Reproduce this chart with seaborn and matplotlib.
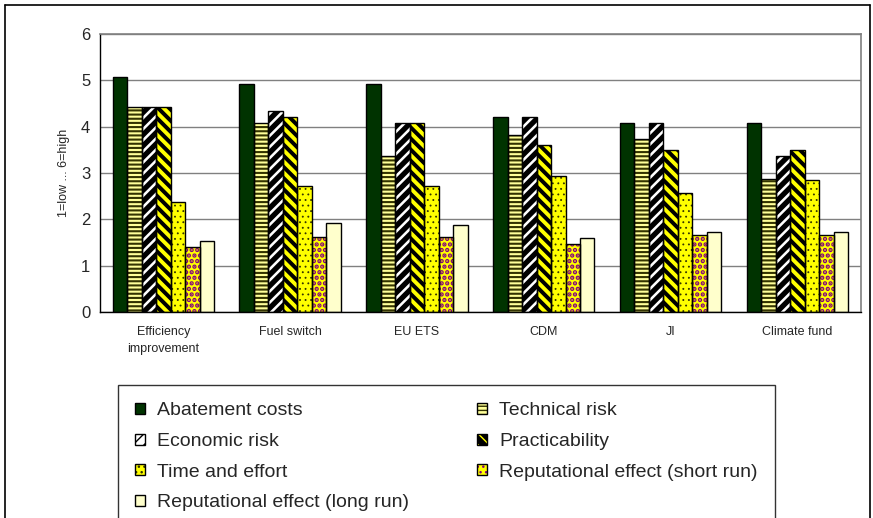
import pandas as pd
import matplotlib
matplotlib.use("Agg")
import matplotlib.pyplot as plt
import seaborn as sns
from matplotlib.patches import Patch, Rectangle
from matplotlib.lines import Line2D

# Data
options = ["Efficiency\nimprovement", "Fuel switch", "EU ETS", "CDM", "JI", "Climate fund"]
criteria = ["Abatement costs", "Technical risk", "Economic risk", "Practicability",
            "Time and effort", "Reputational effect (short run)", "Reputational effect (long run)"]

abatement = [5.07, 4.93, 4.93, 4.20, 4.07, 4.07]
technical = [4.43, 4.07, 3.37, 3.83, 3.73, 2.87]
economic = [4.43, 4.33, 4.07, 4.20, 4.07, 3.37]
practicability = [4.43, 4.20, 4.07, 3.60, 3.50, 3.50]
time_effort = [2.38, 2.73, 2.73, 2.93, 2.57, 2.85]
rep_short = [1.40, 1.62, 1.62, 1.47, 1.67, 1.67]
rep_long = [1.53, 1.93, 1.87, 1.60, 1.73, 1.73]

series = [abatement, technical, economic, practicability, time_effort, rep_short, rep_long]
df = pd.DataFrame([
    {"option": opt, "criterion": crit, "score": val}
    for crit, vals in zip(criteria, series)
    for opt, val in zip(options, vals)
])

# Fill colour, hatch, hatch colour, hatch width for each criterion
faces = ["#003300", "#FFFF99", "#FFFFFF", "#000000", "#FFFF00", "#FFFF00", "#FFFFCC"]
hatches = ["", "----", "///", "\\\\\\", "...", "...", ""]
hatch_colors = ["#003300", "#333300", "#000000", "#FFFF00", "#333300", "#800080", "#FFFFCC"]
hatch_widths = [1.0, 1.5, 3.8, 2.8, 0.6, 2.2, 1.0]

sns.set_style("white")
plt.rcParams['font.family'] = ['Liberation Sans', 'DejaVu Sans']

fig = plt.figure(figsize=(8.73, 5.18), dpi=100)
ax = fig.add_axes([0.1145, 0.398, 0.8715, 0.536])

sns.barplot(data=df, x="option", y="score", hue="criterion",
            palette=dict(zip(criteria, faces)), hue_order=criteria, order=options,
            width=0.8, saturation=1, errorbar=None, legend=False,
            linewidth=0, ax=ax)


def style_patch(p, i):
    p.set_hatch(hatches[i])
    p.set_edgecolor(hatch_colors[i])
    p.set_linewidth(0)
    if hasattr(p, "set_hatch_linewidth"):
        p.set_hatch_linewidth(hatch_widths[i])


for i, cont in enumerate(ax.containers):
    for p in cont.patches:
        style_patch(p, i)
        ax.add_patch(Rectangle(p.get_xy(), p.get_width(), p.get_height(),
                               fill=False, edgecolor="black", linewidth=1.0, zorder=3))

# Axes styling
ax.set_xlim(-0.5, len(options) - 0.5)
ax.set_ylim(0, 6)
ax.set_yticks(range(0, 7))
ax.yaxis.grid(True, color="#808080", linewidth=1.0)
ax.set_axisbelow(True)
for side in ["top", "right"]:
    ax.spines[side].set_color("#808080")
    ax.spines[side].set_linewidth(1.2)
for side in ["left", "bottom"]:
    ax.spines[side].set_color("black")
    ax.spines[side].set_linewidth(1.0)

ax.set_xticks(range(len(options)))
ax.set_xticks([k - 0.5 for k in range(len(options) + 1)], minor=True)
ax.tick_params(axis="x", which="major", length=0, pad=10, labelsize=9)
ax.tick_params(axis="x", which="minor", length=4, direction="out", color="black", width=1)
ax.tick_params(axis="y", length=4, direction="out", color="black", width=1, pad=3, labelsize=12)
for lab in ax.get_xticklabels():
    lab.set_linespacing(1.6)
ax.set_xlabel("")
ax.set_ylabel("1=low ... 6=high", fontsize=9, labelpad=8)

# Legend (row-wise order like the reference)
handles = [(Patch(facecolor=faces[i], hatch=hatches[i], edgecolor=hatch_colors[i], linewidth=0),
            Patch(fill=False, edgecolor="black", linewidth=1.0)) for i in range(len(criteria))]
order = [0, 2, 4, 6, 1, 3, 5]
leg = fig.legend([handles[i] for i in order], [criteria[i] for i in order],
                 loc="upper left", bbox_to_anchor=(0.135, 0.257), ncol=2,
                 fontsize=14, frameon=True, fancybox=False, edgecolor="black",
                 handlelength=0.5, handleheight=0.5, handletextpad=0.62,
                 columnspacing=3.5, labelspacing=0.7, borderpad=0.9,
                 borderaxespad=0)
leg.get_frame().set_linewidth(1.0)

# Outer frame of the chart
fig.add_artist(Line2D([0.0057, 0.0057], [0.0, 0.99], color="black", linewidth=1.2))
fig.add_artist(Line2D([0.0057, 0.9966], [0.99, 0.99], color="black", linewidth=1.2))
fig.add_artist(Line2D([0.9966, 0.9966], [0.0, 0.99], color="black", linewidth=1.2))

fig.savefig("out.png", dpi=100)
